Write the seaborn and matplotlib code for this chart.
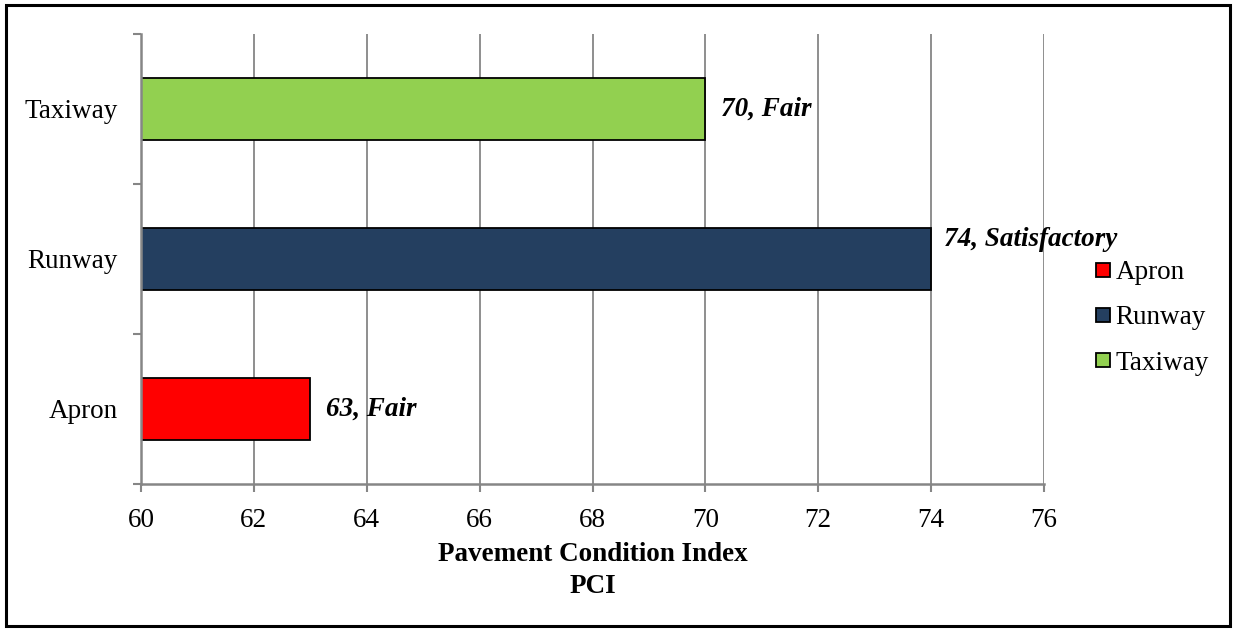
import matplotlib
matplotlib.use("Agg")
import matplotlib.pyplot as plt
from matplotlib.lines import Line2D
from matplotlib.patches import Rectangle
import seaborn as sns
import pandas as pd

# data
sections = ['Taxiway', 'Runway', 'Apron']
pci = [70, 74, 63]
ratings = ['Fair', 'Satisfactory', 'Fair']
legend_order = ['Apron', 'Runway', 'Taxiway']
colors = {'Apron': '#FF0000', 'Runway': '#243F60', 'Taxiway': '#92D050'}

df = pd.DataFrame({'section': sections, 'pci': pci, 'rating': ratings})

sns.set_style('white')
plt.rcParams['font.family'] = ['Liberation Serif', 'DejaVu Serif']
plt.rcParams['text.color'] = 'black'
plt.rcParams['xtick.color'] = 'black'
plt.rcParams['ytick.color'] = 'black'
plt.rcParams['axes.labelcolor'] = 'black'
grey = '#868686'
fs = 19.5

fig = plt.figure(figsize=(12.36, 6.31), dpi=100)
ax = fig.add_axes([141 / 1236, 1 - 484 / 631, (1044 - 141) / 1236, (484 - 34) / 631])

sns.barplot(data=df, x='pci', y='section', hue='section', order=sections,
            palette=colors, orient='h', width=0.41, edgecolor='black',
            linewidth=1.3, saturation=1, legend=False, ax=ax)

ax.set_xlim(60, 76)
ax.set_ylim(2.5, -0.5)
ax.set_xticks(range(60, 77, 2))
ax.grid(axis='x', color=grey, linewidth=1.3)
ax.grid(axis='y', visible=False)
ax.set_axisbelow(True)

for s in ['top', 'right']:
    ax.spines[s].set_visible(False)
for s in ['left', 'bottom']:
    ax.spines[s].set_color(grey)
    ax.spines[s].set_linewidth(1.8)

ax.tick_params(axis='x', bottom=True, direction='out', length=6, width=1.5,
               color=grey, labelsize=fs, labelcolor='black', pad=11)
ax.tick_params(axis='y', which='major', left=True, length=0, labelsize=fs,
               labelcolor='black', pad=17)
ax.set_yticks([-0.5, 0.5, 1.5, 2.5], minor=True)
ax.tick_params(axis='y', which='minor', left=True, direction='out', length=6,
               width=1.5, color=grey)
ax.set_ylabel('')
ax.set_xlabel('Pavement Condition Index\nPCI', fontsize=fs, fontweight='bold',
              labelpad=7, linespacing=1.35)

# value labels, the long one sits a bit higher like in the original
for i, row in df.iterrows():
    if row['rating'] == 'Satisfactory':
        dx, dy = 9, 14
    else:
        dx, dy = 11, 0
    ax.annotate(f"{row['pci']}, {row['rating']}", xy=(row['pci'], i),
                xytext=(dx, dy), textcoords='offset points', ha='left', va='center',
                fontsize=fs, fontweight='bold', fontstyle='italic')

handles = [Line2D([], [], marker='s', linestyle='none', markersize=10,
                  markerfacecolor=colors[k], markeredgecolor='black',
                  markeredgewidth=1.3) for k in legend_order]
fig.legend(handles, legend_order, loc='center left',
           bbox_to_anchor=(1095 / 1236, 1 - 318 / 631), frameon=False,
           fontsize=fs, handlelength=0.6, handletextpad=0.15,
           labelspacing=0.75, borderpad=0, borderaxespad=0)

fig.patches.append(Rectangle((6 / 1236, 5 / 631), 1224 / 1236, 621 / 631,
                             transform=fig.transFigure, fill=False,
                             edgecolor='black', linewidth=2.2))

fig.savefig('out.png', dpi=100)
